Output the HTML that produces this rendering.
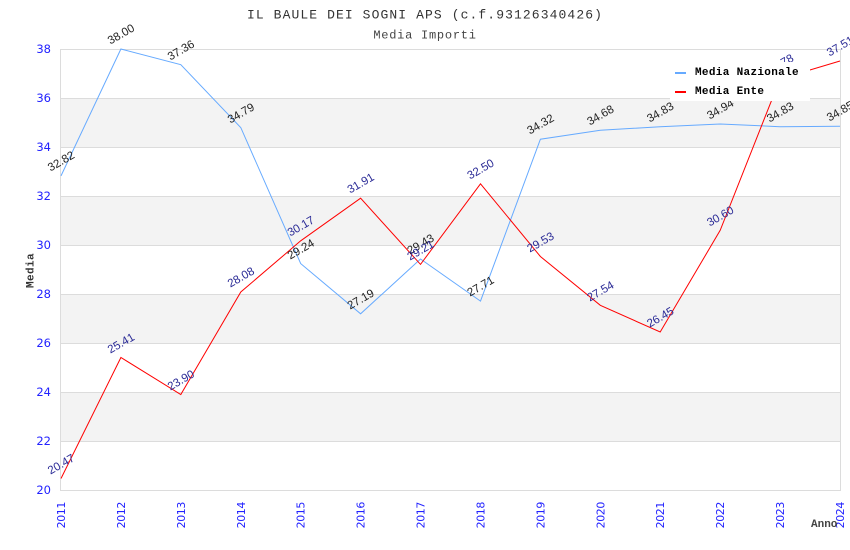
<!DOCTYPE html>
<html>
<head>
<meta charset="utf-8">
<style>
html,body{margin:0;padding:0;background:#fff;}
svg{display:block;}
</style>
</head>
<body>
<svg width="850" height="550" viewBox="0 0 850 550" xmlns="http://www.w3.org/2000/svg">
<rect x="0" y="0" width="850" height="550" fill="#fff"/>
<!-- bands -->
<g fill="#f3f3f3">
<rect x="61" y="98" width="779" height="49"/>
<rect x="61" y="196" width="779" height="49"/>
<rect x="61" y="294" width="779" height="49"/>
<rect x="61" y="392" width="779" height="49"/>
</g>
<!-- grid -->
<g stroke="#dcdcdc" stroke-width="1" shape-rendering="crispEdges">
<line x1="61" y1="49.5" x2="840" y2="49.5"/>
<line x1="61" y1="98.5" x2="840" y2="98.5"/>
<line x1="61" y1="147.5" x2="840" y2="147.5"/>
<line x1="61" y1="196.5" x2="840" y2="196.5"/>
<line x1="61" y1="245.5" x2="840" y2="245.5"/>
<line x1="61" y1="294.5" x2="840" y2="294.5"/>
<line x1="61" y1="343.5" x2="840" y2="343.5"/>
<line x1="61" y1="392.5" x2="840" y2="392.5"/>
<line x1="61" y1="441.5" x2="840" y2="441.5"/>
<line x1="61" y1="490.5" x2="840" y2="490.5"/>
<line x1="60.5" y1="49" x2="60.5" y2="491"/>
<line x1="840.5" y1="49" x2="840.5" y2="491"/>
</g>
<!-- y tick labels -->
<g font-family="DejaVu Sans, sans-serif" font-size="11.5" fill="#2222ff" text-anchor="end">
<text x="51" y="53">38</text>
<text x="51" y="102">36</text>
<text x="51" y="151">34</text>
<text x="51" y="200">32</text>
<text x="51" y="249">30</text>
<text x="51" y="298">28</text>
<text x="51" y="347">26</text>
<text x="51" y="396">24</text>
<text x="51" y="445">22</text>
<text x="51" y="494">20</text>
</g>
<!-- x tick labels -->
<g font-family="DejaVu Sans, sans-serif" font-size="11" fill="#2222ff" text-anchor="end" letter-spacing="-0.4">
<text transform="translate(65,502) rotate(-90)">2011</text>
<text transform="translate(124.9,502) rotate(-90)">2012</text>
<text transform="translate(184.8,502) rotate(-90)">2013</text>
<text transform="translate(244.8,502) rotate(-90)">2014</text>
<text transform="translate(304.7,502) rotate(-90)">2015</text>
<text transform="translate(364.6,502) rotate(-90)">2016</text>
<text transform="translate(424.5,502) rotate(-90)">2017</text>
<text transform="translate(484.5,502) rotate(-90)">2018</text>
<text transform="translate(544.4,502) rotate(-90)">2019</text>
<text transform="translate(604.3,502) rotate(-90)">2020</text>
<text transform="translate(664.2,502) rotate(-90)">2021</text>
<text transform="translate(724.2,502) rotate(-90)">2022</text>
<text transform="translate(784.1,502) rotate(-90)">2023</text>
<text transform="translate(844,502) rotate(-90)">2024</text>
</g>
<!-- series -->
<polyline fill="none" stroke="#66aaff" stroke-width="1" points="61,175.9 120.9,49 180.8,64.7 240.8,127.6 300.7,263.6 360.6,313.8 420.5,259 480.5,301.1 540.4,139.2 600.3,130.3 660.2,126.7 720.2,124 780.1,126.7 840,126.2"/>
<polyline fill="none" stroke="#ff0000" stroke-width="1" points="61,478.5 120.9,357.5 180.8,394.5 240.8,292 300.7,240.8 360.6,198.2 420.5,264.4 480.5,183.8 540.4,256.5 600.3,305.3 660.2,332 720.2,230.3 780.1,78.9 840,61"/>
<!-- Nazionale labels -->
<g font-family="Liberation Sans, sans-serif" font-size="11.5" fill="#222" text-anchor="middle">
<text transform="translate(61,161) rotate(-30)" dy="4">32.82</text>
<text transform="translate(120.9,34) rotate(-30)" dy="4">38.00</text>
<text transform="translate(180.8,50) rotate(-30)" dy="4">37.36</text>
<text transform="translate(240.8,113) rotate(-30)" dy="4">34.79</text>
<text transform="translate(300.7,249) rotate(-30)" dy="4">29.24</text>
<text transform="translate(360.6,299) rotate(-30)" dy="4">27.19</text>
<text transform="translate(420.5,244) rotate(-30)" dy="4">29.43</text>
<text transform="translate(480.5,286) rotate(-30)" dy="4">27.71</text>
<text transform="translate(540.4,124) rotate(-30)" dy="4">34.32</text>
<text transform="translate(600.3,115) rotate(-30)" dy="4">34.68</text>
<text transform="translate(660.2,112) rotate(-30)" dy="4">34.83</text>
<text transform="translate(720.2,109) rotate(-30)" dy="4">34.94</text>
<text transform="translate(780.1,112) rotate(-30)" dy="4">34.83</text>
<text transform="translate(840,111) rotate(-30)" dy="4">34.85</text>
</g>
<!-- Ente labels -->
<g font-family="Liberation Sans, sans-serif" font-size="11.5" fill="#2a2a96" text-anchor="middle">
<text transform="translate(61,464) rotate(-30)" dy="4">20.47</text>
<text transform="translate(120.9,343) rotate(-30)" dy="4">25.41</text>
<text transform="translate(180.8,380) rotate(-30)" dy="4">23.90</text>
<text transform="translate(240.8,277) rotate(-30)" dy="4">28.08</text>
<text transform="translate(300.7,226) rotate(-30)" dy="4">30.17</text>
<text transform="translate(360.6,183) rotate(-30)" dy="4">31.91</text>
<text transform="translate(420.5,250) rotate(-30)" dy="4">29.21</text>
<text transform="translate(480.5,169) rotate(-30)" dy="4">32.50</text>
<text transform="translate(540.4,242) rotate(-30)" dy="4">29.53</text>
<text transform="translate(600.3,291) rotate(-30)" dy="4">27.54</text>
<text transform="translate(660.2,317) rotate(-30)" dy="4">26.45</text>
<text transform="translate(720.2,216) rotate(-30)" dy="4">30.60</text>
<text transform="translate(780.1,64) rotate(-30)" dy="4">36.78</text>
<text transform="translate(840,46) rotate(-30)" dy="4">37.51</text>
</g>
<!-- legend -->
<rect x="670" y="62" width="140" height="39" fill="#fff"/>
<rect x="675" y="72" width="11" height="2" fill="#66aaff"/>
<rect x="675" y="91" width="11" height="2" fill="#ff0000"/>
<g font-family="Liberation Mono, DejaVu Sans Mono, monospace" font-size="11" font-weight="bold" fill="#000" letter-spacing="0.33">
<text x="695" y="75">Media Nazionale</text>
<text x="695" y="94">Media Ente</text>
</g>
<!-- titles -->
<text x="425" y="18.5" text-anchor="middle" font-family="Liberation Mono, DejaVu Sans Mono, monospace" font-size="13" letter-spacing="1.1" fill="#333">IL BAULE DEI SOGNI APS (c.f.93126340426)</text>
<text x="425" y="38.5" text-anchor="middle" font-family="Liberation Mono, DejaVu Sans Mono, monospace" font-size="12" letter-spacing="0.75" fill="#444">Media Importi</text>
<!-- axis titles -->
<text transform="translate(33.5,270.5) rotate(-90)" text-anchor="middle" font-family="Liberation Mono, DejaVu Sans Mono, monospace" font-size="11" font-weight="bold" letter-spacing="0.4" fill="#333">Media</text>
<text x="811" y="527" font-family="Liberation Mono, DejaVu Sans Mono, monospace" font-size="11" font-weight="bold" fill="#444">Anno</text>
</svg>
</body>
</html>
